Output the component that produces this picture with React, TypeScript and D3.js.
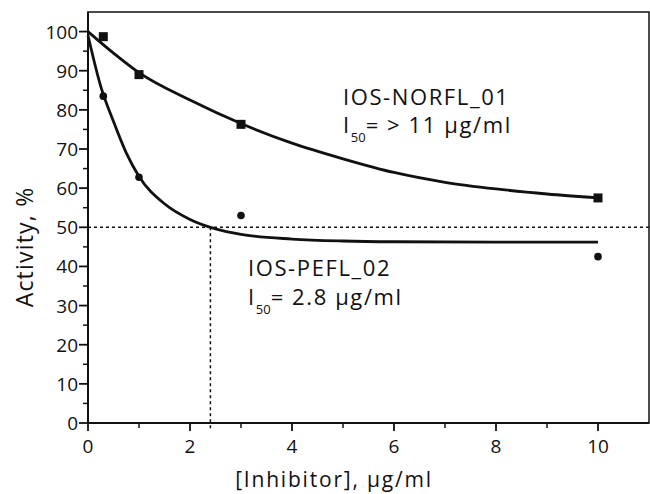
import * as d3 from 'd3';

// Measured activity (%) vs inhibitor concentration (µg/ml)
const norflX = [0.3, 1, 3, 10];
const norflY = [98.7, 89, 76.3, 57.5];
const peflX = [0.3, 1, 3, 10];
const peflY = [83.5, 62.8, 53, 42.5];

// Fitted curves
const norflFitX = [0, 0.5, 1, 2, 3, 4, 5, 6, 7, 8, 9, 10];
const norflFitY = [100, 94.5, 89.5, 82.5, 76.5, 71.5, 67.5, 64, 61.5, 59.8, 58.5, 57.5];
const peflFitX = [0, 0.25, 0.5, 0.75, 1, 1.5, 2, 2.5, 3, 4, 5, 6, 8, 10];
const peflFitY = [99, 86, 77, 69, 63, 56, 52, 49.6, 48.2, 47, 46.5, 46.3, 46.2, 46.2];

const xTicks = [0, 2, 4, 6, 8, 10];
const xMinor = [1, 3, 5, 7, 9];
const yTicks = [0, 10, 20, 30, 40, 50, 60, 70, 80, 90, 100];
const yMinor = [5, 15, 25, 35, 45, 55, 65, 75, 85, 95];

const ic50 = 2.4;
const halfLevel = 50;

const W = 650;
const H = 494;
const margin = { top: 12, right: 1, bottom: 71, left: 88 };
const FONT = "'Open Sans', 'DejaVu Sans', sans-serif";

export default function App() {
  const x = d3.scaleLinear().domain([0, 11]).range([margin.left, W - margin.right]);
  const y = d3.scaleLinear().domain([0, 105]).range([H - margin.bottom, margin.top]);

  const line = d3
    .line<[number, number]>()
    .x((d) => x(d[0]))
    .y((d) => y(d[1]))
    .curve(d3.curveMonotoneX);

  const norflFit = norflFitX.map((v, i) => [v, norflFitY[i]] as [number, number]);
  const peflFit = peflFitX.map((v, i) => [v, peflFitY[i]] as [number, number]);

  const x0 = x(0);
  const y0 = y(0);

  return (
    <svg
      width={W}
      height={H}
      style={{ position: 'absolute', left: 0, top: 0, background: '#fff' }}
      fontFamily={FONT}
    >
      {/* frame */}
      <rect
        x={x(0)}
        y={y(105)}
        width={x(11) - x(0)}
        height={y(0) - y(105)}
        fill="none"
        stroke="#111"
        strokeWidth={1.5}
      />

      {/* reference dashed lines */}
      <line
        x1={x(0)}
        x2={x(11)}
        y1={y(halfLevel)}
        y2={y(halfLevel)}
        stroke="#111"
        strokeWidth={1.5}
        strokeDasharray="3,3"
      />
      <line
        x1={x(ic50)}
        x2={x(ic50)}
        y1={y(halfLevel)}
        y2={y0 + 6}
        stroke="#111"
        strokeWidth={1.5}
        strokeDasharray="3,3"
      />

      {/* fits */}
      <path d={line(norflFit) || ''} fill="none" stroke="#111" strokeWidth={2.8} />
      <path d={line(peflFit) || ''} fill="none" stroke="#111" strokeWidth={2.8} />

      {/* points */}
      {norflX.map((v, i) => (
        <rect key={'n' + i} x={x(v) - 4.5} y={y(norflY[i]) - 4.5} width={9} height={9} fill="#111" />
      ))}
      {peflX.map((v, i) => (
        <circle key={'p' + i} cx={x(v)} cy={y(peflY[i])} r={3.8} fill="#111" />
      ))}

      {/* axes */}
      <line x1={x0} x2={x(11)} y1={y0} y2={y0} stroke="#111" strokeWidth={2} />
      <line x1={x0} x2={x0} y1={y0} y2={y(105)} stroke="#111" strokeWidth={2} />
      {xTicks.map((t) => (
        <g key={'xt' + t}>
          <line x1={x(t)} x2={x(t)} y1={y0} y2={y0 + 8} stroke="#111" strokeWidth={1.8} />
          <text x={x(t)} y={y0 + 30} textAnchor="middle" fontSize={19} fill="#111">
            {t}
          </text>
        </g>
      ))}
      {xMinor.map((t) => (
        <line key={'xm' + t} x1={x(t)} x2={x(t)} y1={y0} y2={y0 + 5} stroke="#111" strokeWidth={1.5} />
      ))}
      {yTicks.map((t) => (
        <g key={'yt' + t}>
          <line x1={x0 - 9} x2={x0} y1={y(t)} y2={y(t)} stroke="#111" strokeWidth={1.8} />
          <text x={x0 - 10} y={y(t) + 7} textAnchor="end" fontSize={19} fill="#111">
            {t}
          </text>
        </g>
      ))}
      {yMinor.map((t) => (
        <line key={'ym' + t} x1={x0 - 5} x2={x0} y1={y(t)} y2={y(t)} stroke="#111" strokeWidth={1.5} />
      ))}

      {/* axis titles */}
      <text x={334} y={487} textAnchor="middle" fontSize={21} letterSpacing={1.8} fill="#111">
        [Inhibitor], µg/ml
      </text>
      <text
        transform={`translate(33,247) rotate(-90)`}
        textAnchor="middle"
        fontSize={23}
        letterSpacing={1.2}
        fill="#111"
      >
        Activity, %
      </text>

      {/* annotations */}
      <g fontSize={22} letterSpacing={1.6} fill="#111">
        <text x={343} y={105}>IOS-NORFL_01</text>
        <text x={343} y={133}>
          I<tspan fontSize={13} dy={9} letterSpacing={0}>50</tspan>
          <tspan dy={-9}>= &gt; 11 µg/ml</tspan>
        </text>
        <text x={248} y={276}>IOS-PEFL_02</text>
        <text x={248} y={305}>
          I<tspan fontSize={13} dy={9} letterSpacing={0}>50</tspan>
          <tspan dy={-9}>= 2.8 µg/ml</tspan>
        </text>
      </g>
    </svg>
  );
}
